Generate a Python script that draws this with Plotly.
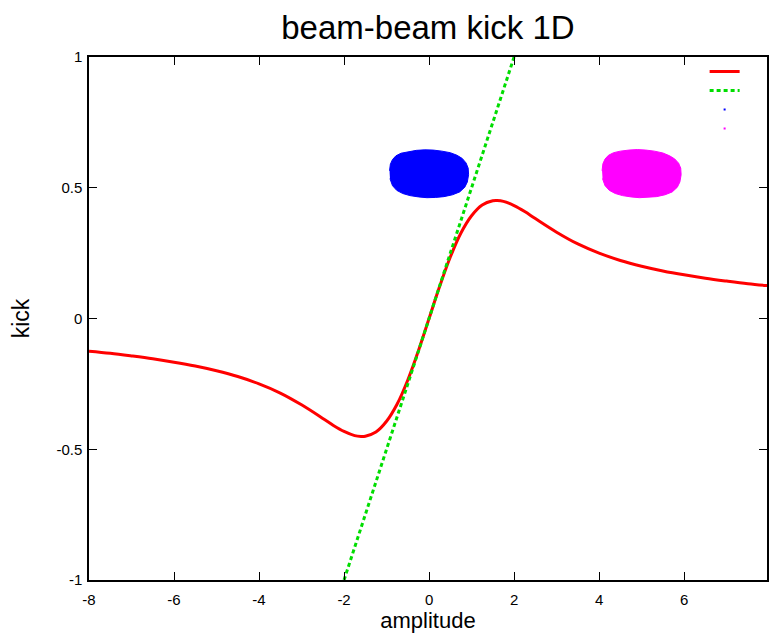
import plotly.graph_objects as go

# ---- data ----
kick_x = [-8, -7.5, -7, -6.5, -6, -5.5, -5, -4.5, -4, -3.5, -3, -2.5, -2.25, -2, -1.75, -1.6, -1.5,
          -1.25, -1, -0.75, -0.5, -0.25, 0, 0.25, 0.5, 0.75, 1, 1.25, 1.5, 1.6, 1.75, 2, 2.25,
          2.5, 3, 3.5, 4, 4.5, 5, 5.5, 6, 6.5, 7, 7.5, 8]
kick_y = [-0.125, -0.133, -0.143, -0.154, -0.167, -0.182, -0.200, -0.222, -0.250, -0.285, -0.330,
          -0.382, -0.409, -0.432, -0.448, -0.451, -0.450, -0.434, -0.393, -0.327, -0.235, -0.123,
          0.0, 0.123, 0.235, 0.327, 0.393, 0.434, 0.450, 0.451, 0.448, 0.432, 0.409, 0.382,
          0.330, 0.285, 0.250, 0.222, 0.200, 0.182, 0.167, 0.154, 0.143, 0.133, 0.125]

lin_x = [-2, 2]
lin_y = [-1, 1]

blue_x = [-0.93, -0.91, -0.86, -0.78, -0.66, -0.50, -0.30, -0.10, 0.10, 0.30, 0.50, 0.66, 0.78,
          0.87, 0.92, 0.93, 0.90, 0.84, 0.72, 0.55, 0.35, 0.15, -0.05, -0.25, -0.45, -0.62,
          -0.76, -0.86, -0.92]
blue_y = [0.565, 0.590, 0.608, 0.622, 0.632, 0.638, 0.643, 0.645, 0.644, 0.640, 0.634, 0.624,
          0.612, 0.595, 0.575, 0.550, 0.522, 0.502, 0.484, 0.473, 0.466, 0.463, 0.462, 0.465,
          0.470, 0.478, 0.490, 0.508, 0.535]

mag_x = [4.07, 4.09, 4.14, 4.22, 4.34, 4.50, 4.70, 4.90, 5.10, 5.30, 5.50, 5.66, 5.78,
         5.87, 5.92, 5.93, 5.90, 5.84, 5.72, 5.55, 5.35, 5.15, 4.95, 4.75, 4.55, 4.38,
         4.24, 4.14, 4.08]
mag_y = [0.565, 0.592, 0.610, 0.624, 0.634, 0.640, 0.644, 0.646, 0.644, 0.640, 0.633, 0.622,
         0.610, 0.594, 0.575, 0.550, 0.522, 0.502, 0.484, 0.473, 0.466, 0.463, 0.462, 0.465,
         0.470, 0.478, 0.490, 0.508, 0.535]

x_ticks = [-8, -6, -4, -2, 0, 2, 4, 6]
x_ticktext = ["-8", "-6", "-4", "-2", "0", "2", "4", "6"]
y_ticks = [-1, -0.5, 0, 0.5, 1]
y_ticktext = ["-1", "-0.5", "0", "0.5", "1"]

FONT = "Liberation Sans, Arial, sans-serif"

fig = go.Figure()

fig.add_trace(go.Scatter(x=blue_x, y=blue_y, mode="lines", fill="toself",
                         fillcolor="#0000ff", line=dict(color="#0000ff", width=1),
                         showlegend=False, hoverinfo="skip"))
fig.add_trace(go.Scatter(x=mag_x, y=mag_y, mode="lines", fill="toself",
                         fillcolor="#ff00ff", line=dict(color="#ff00ff", width=1),
                         showlegend=False, hoverinfo="skip"))

fig.add_trace(go.Scatter(x=kick_x, y=kick_y, mode="lines", name="",
                         line=dict(color="#ff0000", width=3, shape="spline")))
fig.add_trace(go.Scatter(x=lin_x, y=lin_y, mode="lines", name="",
                         line=dict(color="#00dd00", width=3, dash="4px,3px")))
fig.add_trace(go.Scatter(x=[None], y=[None], mode="markers", name="",
                         marker=dict(color="#0000ff", size=2, symbol="square")))
fig.add_trace(go.Scatter(x=[None], y=[None], mode="markers", name="",
                         marker=dict(color="#ff00ff", size=2, symbol="square")))

axis_common = dict(showgrid=False, zeroline=False, showline=True, linecolor="black",
                   linewidth=1.5, mirror="ticks", ticks="inside", ticklen=8, tickwidth=1,
                   tickcolor="black", tickfont=dict(family=FONT, size=15, color="black"))

fig.update_layout(
    width=769, height=635,
    margin=dict(l=89, r=0, t=57, b=55),
    paper_bgcolor="white", plot_bgcolor="white",
    title=dict(text="beam-beam kick 1D", x=0.5, xref="paper", xanchor="center",
               y=1 - 27 / 635, yref="container", yanchor="middle",
               font=dict(family=FONT, size=33, color="black")),
    xaxis=dict(range=[-8, 7.95], tickvals=x_ticks, ticktext=x_ticktext, ticklabelstandoff=5,
               title=dict(text="amplitude", font=dict(family=FONT, size=22, color="black"),
                          standoff=4),
               **axis_common),
    yaxis=dict(range=[-1, 1], tickvals=y_ticks, ticktext=y_ticktext, ticklabelstandoff=2,
               title=dict(text="kick", font=dict(family=FONT, size=23, color="black"),
                          standoff=20),
               **axis_common),
    legend=dict(x=0.908, y=1.0, xanchor="left", yanchor="top", bgcolor="rgba(0,0,0,0)",
                font=dict(family=FONT, size=10), tracegroupgap=0),
    showlegend=True,
)

fig.write_html("out.html")
